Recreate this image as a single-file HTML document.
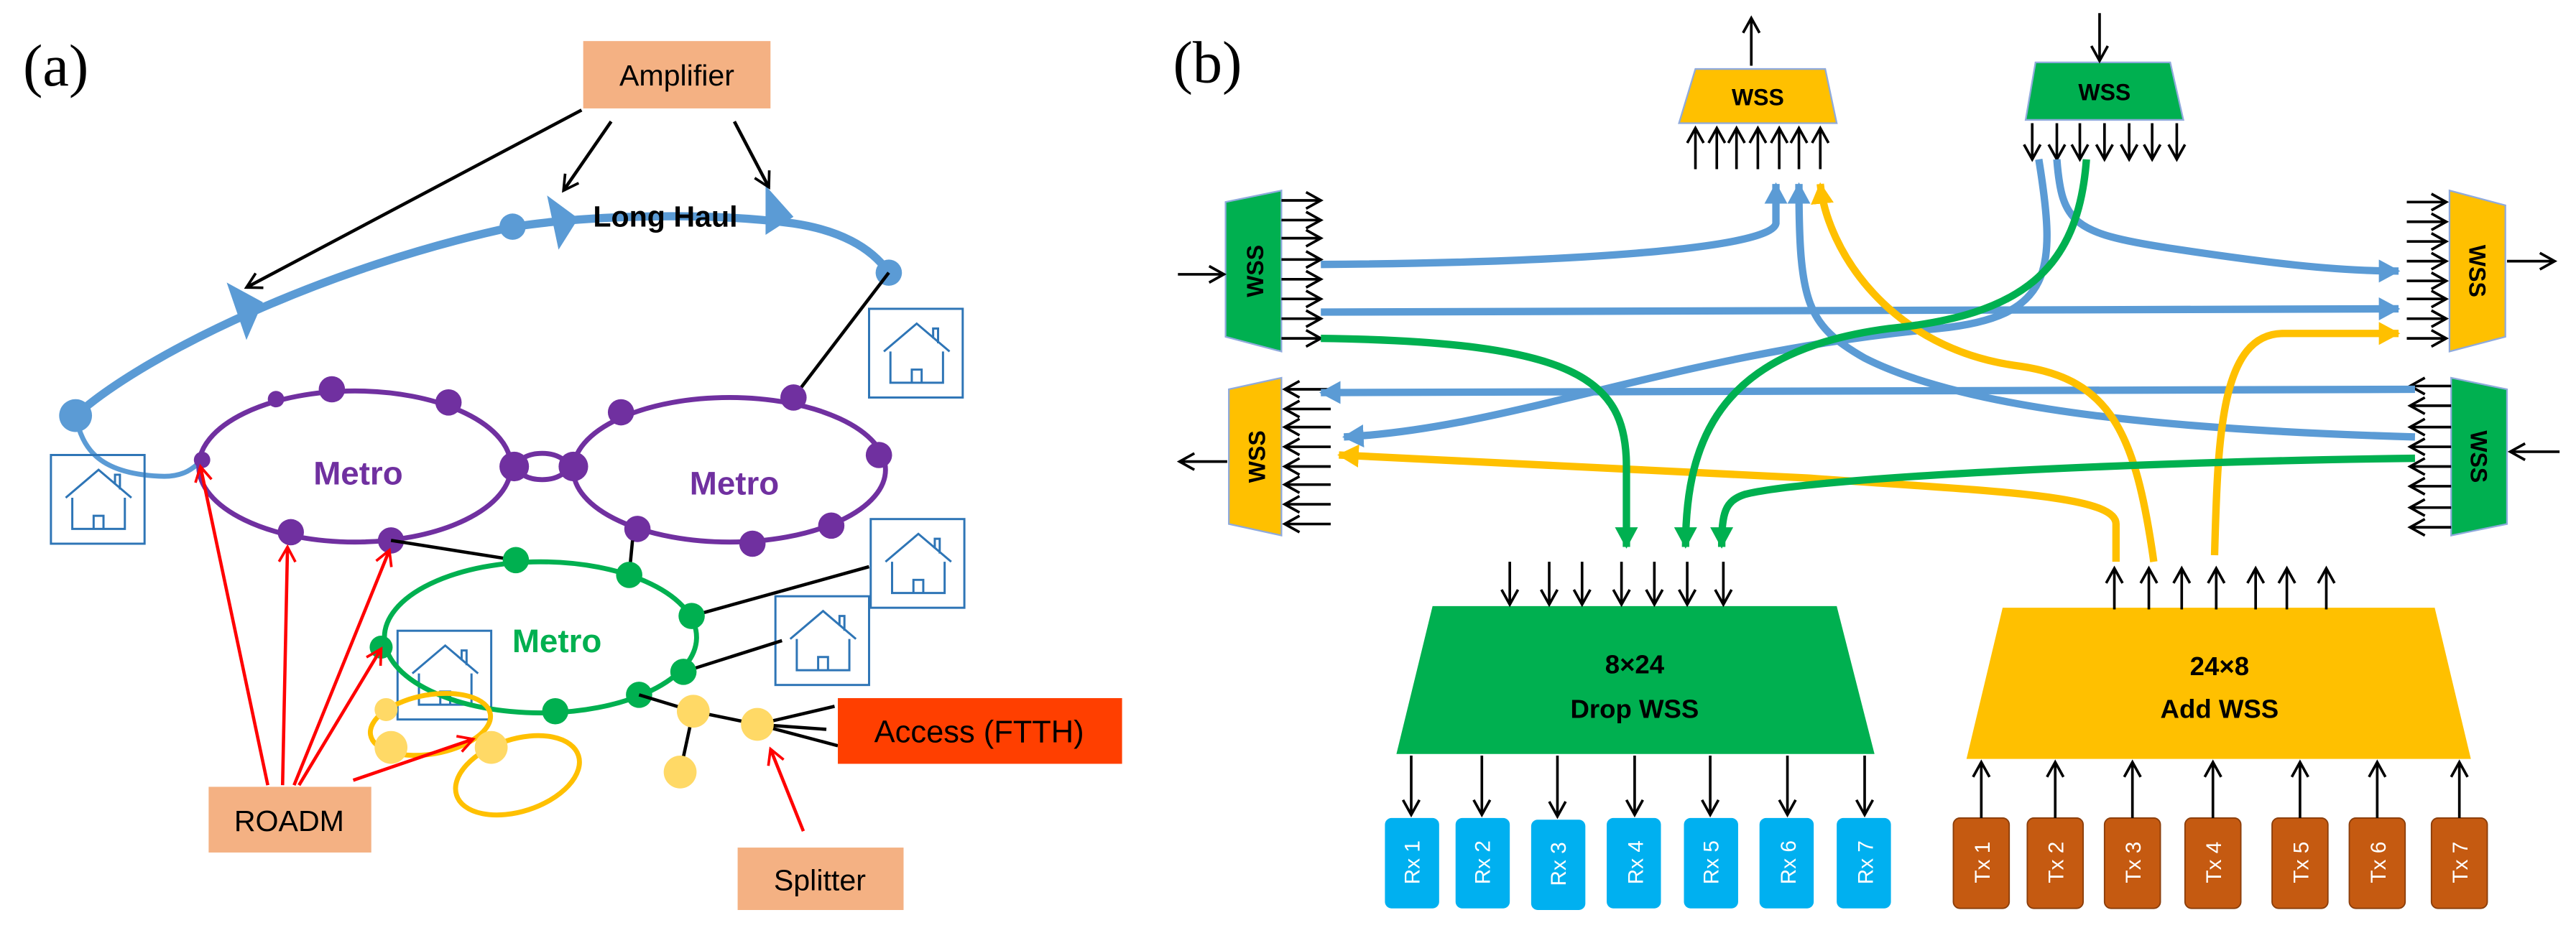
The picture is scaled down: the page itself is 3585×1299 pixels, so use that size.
<!DOCTYPE html>
<html><head><meta charset="utf-8"><style>html,body{margin:0;padding:0;background:#fff;overflow:hidden}svg{display:block}text{font-family:"Liberation Sans",sans-serif}</style></head><body>
<svg width="3585" height="1299" viewBox="0 0 1568 568" preserveAspectRatio="none" xmlns="http://www.w3.org/2000/svg">
<defs>
<marker id="ab" markerUnits="userSpaceOnUse" markerWidth="12" markerHeight="12" refX="10" refY="6" orient="auto"><path d="M1,1 L10,6 L1,11" fill="none" stroke="#000" stroke-width="1.6"/></marker>
<marker id="ar" markerUnits="userSpaceOnUse" markerWidth="12" markerHeight="12" refX="10" refY="6" orient="auto"><path d="M1,1 L10,6 L1,11" fill="none" stroke="#f00" stroke-width="1.6"/></marker>
<marker id="mb" markerUnits="userSpaceOnUse" markerWidth="14" markerHeight="14" refX="12" refY="7" orient="auto"><path d="M0,0 L13,7 L0,14 Z" fill="#5B9BD5"/></marker>
<marker id="my" markerUnits="userSpaceOnUse" markerWidth="14" markerHeight="14" refX="12" refY="7" orient="auto"><path d="M0,0 L13,7 L0,14 Z" fill="#FFC000"/></marker>
<marker id="mg" markerUnits="userSpaceOnUse" markerWidth="14" markerHeight="14" refX="12" refY="7" orient="auto"><path d="M0,0 L13,7 L0,14 Z" fill="#00B050"/></marker>
<g id="house" fill="none" stroke="#2E75B6" stroke-width="1.3"><rect x="0" y="0" width="57" height="54"/><path d="M9,26 L29,9 L49,26 M13,26 V45 H45 V26 M26,45 V37 H32 V45 M39,18 V12 H42 V21"/></g>
</defs>

<!-- ===== (a) ===== -->
<text x="14" y="52" font-size="36" style="font-family:'Liberation Serif',serif">(a)</text>
<rect x="355" y="25" width="114" height="41" fill="#F4B183"/>
<text x="412" y="52" font-size="18" text-anchor="middle">Amplifier</text>

<path d="M46,253 C90,214 200,162 313,138 C360,131 430,129 483,136 C510,140 530,150 541,166" fill="none" stroke="#5B9BD5" stroke-width="5"/>
<path d="M46,253 C50,273 60,289 100,290 C112,290 118,285 123,280" fill="none" stroke="#5B9BD5" stroke-width="3"/>
<circle cx="46" cy="253" r="10" fill="#5B9BD5"/>
<circle cx="312" cy="138" r="8" fill="#5B9BD5"/>
<circle cx="541" cy="166" r="8" fill="#5B9BD5"/>
<path d="M138,172 L160,184 L150,207 Z" fill="#5B9BD5"/>
<path d="M333,119 L352,133 L340,152 Z" fill="#5B9BD5"/>
<path d="M466,113 L483,132 L466,143 Z" fill="#5B9BD5"/>
<text x="405" y="138" font-size="18" font-weight="bold" text-anchor="middle">Long Haul</text>

<line x1="354" y1="67" x2="150" y2="175" stroke="#000" stroke-width="2" marker-end="url(#ab)"/>
<line x1="372" y1="74" x2="343" y2="116" stroke="#000" stroke-width="2" marker-end="url(#ab)"/>
<line x1="447" y1="74" x2="468" y2="114" stroke="#000" stroke-width="2" marker-end="url(#ab)"/>
<line x1="541" y1="166" x2="483" y2="242" stroke="#000" stroke-width="2"/>

<use href="#house" x="31" y="277"/>
<use href="#house" x="529" y="188"/>
<use href="#house" x="530" y="316"/>
<use href="#house" x="472" y="363"/>
<use href="#house" x="242" y="384"/>

<ellipse cx="216" cy="284" rx="95" ry="46" fill="none" stroke="#7030A0" stroke-width="3"/>
<ellipse cx="444" cy="286" rx="95" ry="44" fill="none" stroke="#7030A0" stroke-width="3"/>
<ellipse cx="330" cy="284" rx="15" ry="8" fill="none" stroke="#7030A0" stroke-width="3"/>
<g fill="#7030A0">
<circle cx="168" cy="243" r="5"/><circle cx="202" cy="237" r="8"/><circle cx="273" cy="245" r="8"/><circle cx="313" cy="284" r="9"/><circle cx="123" cy="280" r="5"/><circle cx="177" cy="324" r="8"/><circle cx="238" cy="329" r="8"/>
<circle cx="349" cy="284" r="9"/><circle cx="378" cy="251" r="8"/><circle cx="483" cy="242" r="8"/><circle cx="535" cy="277" r="8"/><circle cx="506" cy="320" r="8"/><circle cx="458" cy="331" r="8"/><circle cx="388" cy="322" r="8"/>
</g>
<text x="218" y="295" font-size="20" font-weight="bold" fill="#7030A0" text-anchor="middle">Metro</text>
<text x="447" y="301" font-size="20" font-weight="bold" fill="#7030A0" text-anchor="middle">Metro</text>

<line x1="238" y1="329" x2="314" y2="341" stroke="#000" stroke-width="2"/>
<line x1="385" y1="329" x2="383" y2="350" stroke="#000" stroke-width="2"/>
<line x1="421" y1="375" x2="529" y2="345" stroke="#000" stroke-width="2"/>
<line x1="416" y1="409" x2="476" y2="390" stroke="#000" stroke-width="2"/>
<ellipse cx="329" cy="388" rx="95" ry="46" fill="none" stroke="#00B050" stroke-width="3"/>
<g fill="#00B050">
<circle cx="314" cy="341" r="8"/><circle cx="383" cy="350" r="8"/><circle cx="421" cy="375" r="8"/><circle cx="416" cy="409" r="8"/><circle cx="389" cy="423" r="8"/><circle cx="338" cy="433" r="8"/><circle cx="232" cy="394" r="7"/>
</g>
<text x="339" y="397" font-size="20" font-weight="bold" fill="#00B050" text-anchor="middle">Metro</text>

<g stroke="#000" stroke-width="2">
<line x1="389" y1="423" x2="422" y2="433"/><line x1="422" y1="433" x2="461" y2="441"/><line x1="422" y1="433" x2="414" y2="470"/>
<line x1="461" y1="441" x2="508" y2="430"/><line x1="461" y1="441" x2="503" y2="444"/><line x1="461" y1="441" x2="510" y2="454"/>
</g>
<ellipse cx="262" cy="441" rx="37" ry="18" transform="rotate(-10 262 441)" fill="none" stroke="#FFC000" stroke-width="3"/>
<ellipse cx="315" cy="472" rx="39" ry="22" transform="rotate(-18 315 472)" fill="none" stroke="#FFC000" stroke-width="3"/>
<g fill="#FFD966">
<circle cx="422" cy="433" r="10"/><circle cx="461" cy="441" r="10"/><circle cx="414" cy="470" r="10"/><circle cx="235" cy="432" r="7"/><circle cx="238" cy="455" r="10"/><circle cx="299" cy="455" r="10"/>
</g>

<rect x="510" y="425" width="173" height="40" fill="#FF3F00"/>
<text x="596" y="452" font-size="19" text-anchor="middle">Access (FTTH)</text>
<rect x="127" y="479" width="99" height="40" fill="#F4B183"/>
<text x="176" y="506" font-size="18" text-anchor="middle">ROADM</text>
<rect x="449" y="516" width="101" height="38" fill="#F4B183"/>
<text x="499" y="542" font-size="18" text-anchor="middle">Splitter</text>

<g stroke="#f00" stroke-width="2" marker-end="url(#ar)">
<line x1="163" y1="478" x2="122" y2="284"/>
<line x1="172" y1="478" x2="175" y2="333"/>
<line x1="179" y1="478" x2="237" y2="335"/>
<line x1="182" y1="478" x2="232" y2="395"/>
<line x1="215" y1="475" x2="288" y2="450"/>
<line x1="489" y1="506" x2="469" y2="456"/>
</g>

<!-- ===== (b) ===== -->
<text x="714" y="50" font-size="36" style="font-family:'Liberation Serif',serif">(b)</text>

<path d="M1032,42 L1111,42 L1118,75 L1022,75 Z" fill="#FFC000" stroke="#8faadc" stroke-width="1"/>
<text x="1070" y="64" font-size="14" font-weight="bold" text-anchor="middle">WSS</text>
<line x1="1066" y1="40" x2="1066" y2="11" stroke="#000" stroke-width="1.6" marker-end="url(#ab)"/>
<g stroke="#000" stroke-width="1.6" marker-end="url(#ab)">
<line x1="1032" y1="103" x2="1032" y2="78"/><line x1="1045" y1="103" x2="1045" y2="78"/><line x1="1057" y1="103" x2="1057" y2="78"/><line x1="1070" y1="103" x2="1070" y2="78"/><line x1="1083" y1="103" x2="1083" y2="78"/><line x1="1095" y1="103" x2="1095" y2="78"/><line x1="1108" y1="103" x2="1108" y2="78"/>
</g>
<path d="M1239,38 L1321,38 L1329,73 L1233,73 Z" fill="#00B050" stroke="#8faadc" stroke-width="1"/>
<text x="1281" y="61" font-size="14" font-weight="bold" text-anchor="middle">WSS</text>
<line x1="1278" y1="8" x2="1278" y2="37" stroke="#000" stroke-width="1.6" marker-end="url(#ab)"/>
<g stroke="#000" stroke-width="1.6" marker-end="url(#ab)">
<line x1="1237" y1="75" x2="1237" y2="97"/><line x1="1252" y1="75" x2="1252" y2="97"/><line x1="1266" y1="75" x2="1266" y2="97"/><line x1="1281" y1="75" x2="1281" y2="97"/><line x1="1296" y1="75" x2="1296" y2="97"/><line x1="1310" y1="75" x2="1310" y2="97"/><line x1="1325" y1="75" x2="1325" y2="97"/>
</g>

<path d="M746,123 L780,116 L780,214 L746,205 Z" fill="#00B050" stroke="#8faadc" stroke-width="1"/>
<text transform="translate(769,165) rotate(-90)" font-size="14" font-weight="bold" text-anchor="middle">WSS</text>
<line x1="717" y1="167" x2="745" y2="167" stroke="#000" stroke-width="1.6" marker-end="url(#ab)"/>
<g stroke="#000" stroke-width="1.6" marker-end="url(#ab)">
<line x1="780" y1="122" x2="804" y2="122"/><line x1="780" y1="134" x2="804" y2="134"/><line x1="780" y1="145" x2="804" y2="145"/><line x1="780" y1="158" x2="804" y2="158"/><line x1="780" y1="170" x2="804" y2="170"/><line x1="780" y1="182" x2="804" y2="182"/><line x1="780" y1="194" x2="804" y2="194"/><line x1="780" y1="206" x2="804" y2="206"/>
</g>
<path d="M748,237 L780,230 L780,326 L748,319 Z" fill="#FFC000" stroke="#8faadc" stroke-width="1"/>
<text transform="translate(770,278) rotate(-90)" font-size="14" font-weight="bold" text-anchor="middle">WSS</text>
<line x1="747" y1="281" x2="718" y2="281" stroke="#000" stroke-width="1.6" marker-end="url(#ab)"/>
<g stroke="#000" stroke-width="1.6" marker-end="url(#ab)">
<line x1="810" y1="237" x2="782" y2="237"/><line x1="810" y1="249" x2="782" y2="249"/><line x1="810" y1="260" x2="782" y2="260"/><line x1="810" y1="272" x2="782" y2="272"/><line x1="810" y1="284" x2="782" y2="284"/><line x1="810" y1="295" x2="782" y2="295"/><line x1="810" y1="307" x2="782" y2="307"/><line x1="810" y1="319" x2="782" y2="319"/>
</g>
<path d="M1491,116 L1525,125 L1525,205 L1491,214 Z" fill="#FFC000" stroke="#8faadc" stroke-width="1"/>
<text transform="translate(1503,165) rotate(90)" font-size="14" font-weight="bold" text-anchor="middle">WSS</text>
<line x1="1526" y1="159" x2="1555" y2="159" stroke="#000" stroke-width="1.6" marker-end="url(#ab)"/>
<g stroke="#000" stroke-width="1.6" marker-end="url(#ab)">
<line x1="1465" y1="123" x2="1489" y2="123"/><line x1="1465" y1="135" x2="1489" y2="135"/><line x1="1465" y1="147" x2="1489" y2="147"/><line x1="1465" y1="159" x2="1489" y2="159"/><line x1="1465" y1="171" x2="1489" y2="171"/><line x1="1465" y1="182" x2="1489" y2="182"/><line x1="1465" y1="194" x2="1489" y2="194"/><line x1="1465" y1="206" x2="1489" y2="206"/>
</g>
<path d="M1492,230 L1526,237 L1526,319 L1492,326 Z" fill="#00B050" stroke="#8faadc" stroke-width="1"/>
<text transform="translate(1504,278) rotate(90)" font-size="14" font-weight="bold" text-anchor="middle">WSS</text>
<line x1="1558" y1="275" x2="1528" y2="275" stroke="#000" stroke-width="1.6" marker-end="url(#ab)"/>
<g stroke="#000" stroke-width="1.6" marker-end="url(#ab)">
<line x1="1492" y1="235" x2="1467" y2="235"/><line x1="1492" y1="247" x2="1467" y2="247"/><line x1="1492" y1="260" x2="1467" y2="260"/><line x1="1492" y1="272" x2="1467" y2="272"/><line x1="1492" y1="284" x2="1467" y2="284"/><line x1="1492" y1="296" x2="1467" y2="296"/><line x1="1492" y1="309" x2="1467" y2="309"/><line x1="1492" y1="321" x2="1467" y2="321"/>
</g>

<g fill="none" stroke-width="4.5">
<path d="M804,161 C950,160 1078,152 1081,136 L1081,112" stroke="#5B9BD5" marker-end="url(#mb)"/>
<path d="M804,190 L1460,188" stroke="#5B9BD5" marker-end="url(#mb)"/>
<path d="M1252,97 C1255,136 1262,142 1320,151 C1380,160 1420,165 1460,165" stroke="#5B9BD5" marker-end="url(#mb)"/>
<path d="M1241,97 C1252,165 1250,193 1180,200 C1020,215 920,261 818,266" stroke="#5B9BD5" marker-end="url(#mb)"/>
<path d="M1470,266 C1330,262 1200,251 1135,218 C1100,198 1095,185 1095,112" stroke="#5B9BD5" marker-end="url(#mb)"/>
<path d="M1470,237 L804,239" stroke="#5B9BD5" marker-end="url(#mb)"/>
<path d="M1311,342 C1300,264 1285,231 1230,223 C1150,213 1112,152 1108,112" stroke="#FFC000" marker-end="url(#my)"/>
<path d="M1288,342 L1288,319 C1288,301 1210,299 1100,291 L815,277" stroke="#FFC000" marker-end="url(#my)"/>
<path d="M1348,338 C1350,264 1352,203 1390,203 L1460,203" stroke="#FFC000" marker-end="url(#my)"/>
<path d="M804,206 C960,208 990,231 990,284 L990,333" stroke="#00B050" marker-end="url(#mg)"/>
<path d="M1270,97 C1265,165 1230,192 1150,200 C1050,213 1026,264 1026,333" stroke="#00B050" marker-end="url(#mg)"/>
<path d="M1470,279 C1300,281 1100,291 1062,301 C1050,305 1048,312 1048,333" stroke="#00B050" marker-end="url(#mg)"/>
</g>

<path d="M872,369 L1118,369 L1141,459 L850,459 Z" fill="#00B050"/>
<text x="995" y="410" font-size="16" font-weight="bold" text-anchor="middle">8×24</text>
<text x="995" y="437" font-size="16" font-weight="bold" text-anchor="middle">Drop WSS</text>
<g stroke="#000" stroke-width="1.6" marker-end="url(#ab)">
<line x1="919" y1="342" x2="919" y2="368"/><line x1="943" y1="342" x2="943" y2="368"/><line x1="963" y1="342" x2="963" y2="368"/><line x1="987" y1="342" x2="987" y2="368"/><line x1="1007" y1="342" x2="1007" y2="368"/><line x1="1027" y1="342" x2="1027" y2="368"/><line x1="1049" y1="342" x2="1049" y2="368"/>
</g>
<path d="M1219,370 L1482,370 L1504,462 L1197,462 Z" fill="#FFC000"/>
<text x="1351" y="411" font-size="16" font-weight="bold" text-anchor="middle">24×8</text>
<text x="1351" y="437" font-size="16" font-weight="bold" text-anchor="middle">Add WSS</text>
<g stroke="#000" stroke-width="1.6" marker-end="url(#ab)">
<line x1="1287" y1="371" x2="1287" y2="346"/><line x1="1308" y1="371" x2="1308" y2="346"/><line x1="1328" y1="371" x2="1328" y2="346"/><line x1="1349" y1="371" x2="1349" y2="346"/><line x1="1373" y1="371" x2="1373" y2="346"/><line x1="1392" y1="371" x2="1392" y2="346"/><line x1="1416" y1="371" x2="1416" y2="346"/>
</g>

<g fill="#00B0F0">
<rect x="843" y="498" width="33" height="55" rx="4"/><rect x="886" y="498" width="33" height="55" rx="4"/><rect x="932" y="499" width="33" height="55" rx="4"/><rect x="978" y="498" width="33" height="55" rx="4"/><rect x="1025" y="498" width="33" height="55" rx="4"/><rect x="1071" y="498" width="33" height="55" rx="4"/><rect x="1118" y="498" width="33" height="55" rx="4"/>
</g>
<g fill="#C55A11" stroke="#8a3d0a" stroke-width="0.8">
<rect x="1189" y="498" width="34" height="55" rx="4"/><rect x="1234" y="498" width="34" height="55" rx="4"/><rect x="1281" y="498" width="34" height="55" rx="4"/><rect x="1330" y="498" width="34" height="55" rx="4"/><rect x="1383" y="498" width="34" height="55" rx="4"/><rect x="1430" y="498" width="34" height="55" rx="4"/><rect x="1480" y="498" width="34" height="55" rx="4"/>
</g>
<g fill="#fff" font-size="13" text-anchor="middle">
<text transform="translate(864,525) rotate(-90)">Rx 1</text><text transform="translate(907,525) rotate(-90)">Rx 2</text><text transform="translate(953,526) rotate(-90)">Rx 3</text><text transform="translate(1000,525) rotate(-90)">Rx 4</text><text transform="translate(1046,525) rotate(-90)">Rx 5</text><text transform="translate(1093,525) rotate(-90)">Rx 6</text><text transform="translate(1140,525) rotate(-90)">Rx 7</text>
<text transform="translate(1211,525) rotate(-90)">Tx 1</text><text transform="translate(1256,525) rotate(-90)">Tx 2</text><text transform="translate(1303,525) rotate(-90)">Tx 3</text><text transform="translate(1352,525) rotate(-90)">Tx 4</text><text transform="translate(1405,525) rotate(-90)">Tx 5</text><text transform="translate(1452,525) rotate(-90)">Tx 6</text><text transform="translate(1502,525) rotate(-90)">Tx 7</text>
</g>
<g stroke="#000" stroke-width="1.6" marker-end="url(#ab)">
<line x1="859" y1="460" x2="859" y2="496"/><line x1="902" y1="460" x2="902" y2="496"/><line x1="948" y1="460" x2="948" y2="497"/><line x1="995" y1="460" x2="995" y2="496"/><line x1="1041" y1="460" x2="1041" y2="496"/><line x1="1088" y1="460" x2="1088" y2="496"/><line x1="1135" y1="460" x2="1135" y2="496"/>
<line x1="1206" y1="498" x2="1206" y2="464"/><line x1="1251" y1="498" x2="1251" y2="464"/><line x1="1298" y1="498" x2="1298" y2="464"/><line x1="1347" y1="498" x2="1347" y2="464"/><line x1="1400" y1="498" x2="1400" y2="464"/><line x1="1447" y1="498" x2="1447" y2="464"/><line x1="1497" y1="498" x2="1497" y2="464"/>
</g>
</svg>
</body></html>
